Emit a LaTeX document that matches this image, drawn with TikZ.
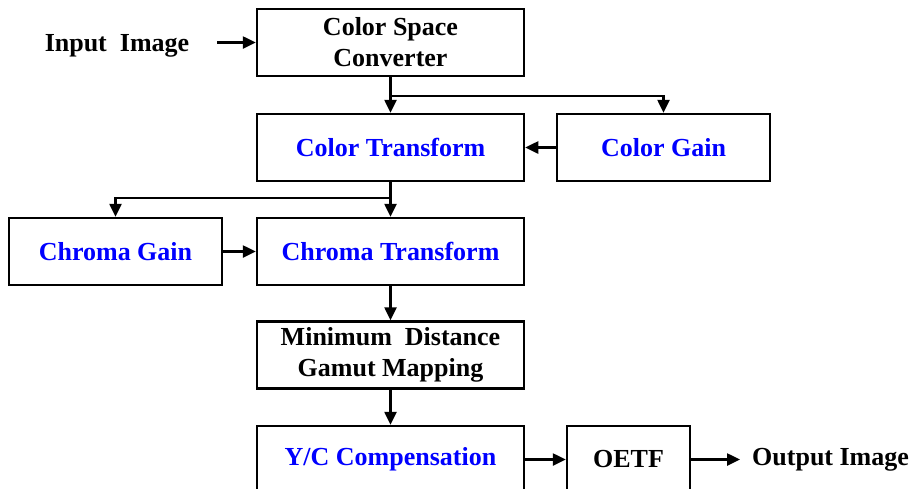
\documentclass[tikz,border=0pt]{standalone}
\usepackage{fontspec}
\setmainfont{Liberation Serif}
\usetikzlibrary{arrows.meta}
\begin{document}
\begin{tikzpicture}[x=1pt,y=-1pt,
  blk/.style={draw,line width=2.5pt,minimum width=267pt,minimum height=67pt,
    inner sep=0pt,align=center,font=\fontsize{26}{31}\selectfont\bfseries},
  small/.style={blk,minimum width=213pt},
  hot/.style={text=blue},
  lbl/.style={inner sep=0pt,font=\fontsize{26}{31}\selectfont\bfseries},
  arr/.style={line width=2.5pt,-{Triangle[length=13pt,width=12pt]}}]
\useasboundingbox (0,0) rectangle (914,488);

% processing blocks
\node[blk] (csc) at (390.5,42.5) {Color Space\\Converter};
\node[blk,hot] (ct) at (390.5,147.5) {Color Transform};
\node[small,hot] (cg) at (663.5,147.5) {Color Gain};
\node[small,hot] (chg) at (115.5,251.5) {Chroma Gain};
\node[blk,hot] (cht) at (390.5,251.5) {Chroma Transform};
\node[blk] (gm) at (390.5,355) {Minimum\ \ Distance\\Gamut Mapping};
\node[blk,hot] (yc) at (390.5,459.5) {Y/C Compensation};
\node[blk,minimum width=123pt] (oetf) at (628.5,459.5) {OETF};

% input / output labels
\node[lbl] (in) at (117,46) {Input\ \ Image};
\node[lbl,anchor=west] (out) at (752,460) {Output Image};
\coordinate (ia) at (217,42.5);
\coordinate (oa) at (740,459.5);
\coordinate (j1) at (390.5,96);
\coordinate (j2) at (390.5,198);

% connectors
\draw[arr] (ia) -- (csc.west);
\draw[arr] (csc.south) -- (ct.north);
\draw[arr] (j1) -| (cg.north);
\draw[arr] (cg.west) -- (ct.east);
\draw[arr] (ct.south) -- (cht.north);
\draw[arr] (j2) -| (chg.north);
\draw[arr] (chg.east) -- (cht.west);
\draw[arr] (cht.south) -- (gm.north);
\draw[arr] (gm.south) -- (yc.north);
\draw[arr] (yc.east) -- (oetf.west);
\draw[arr] (oetf.east) -- (oa);
\end{tikzpicture}
\end{document}
